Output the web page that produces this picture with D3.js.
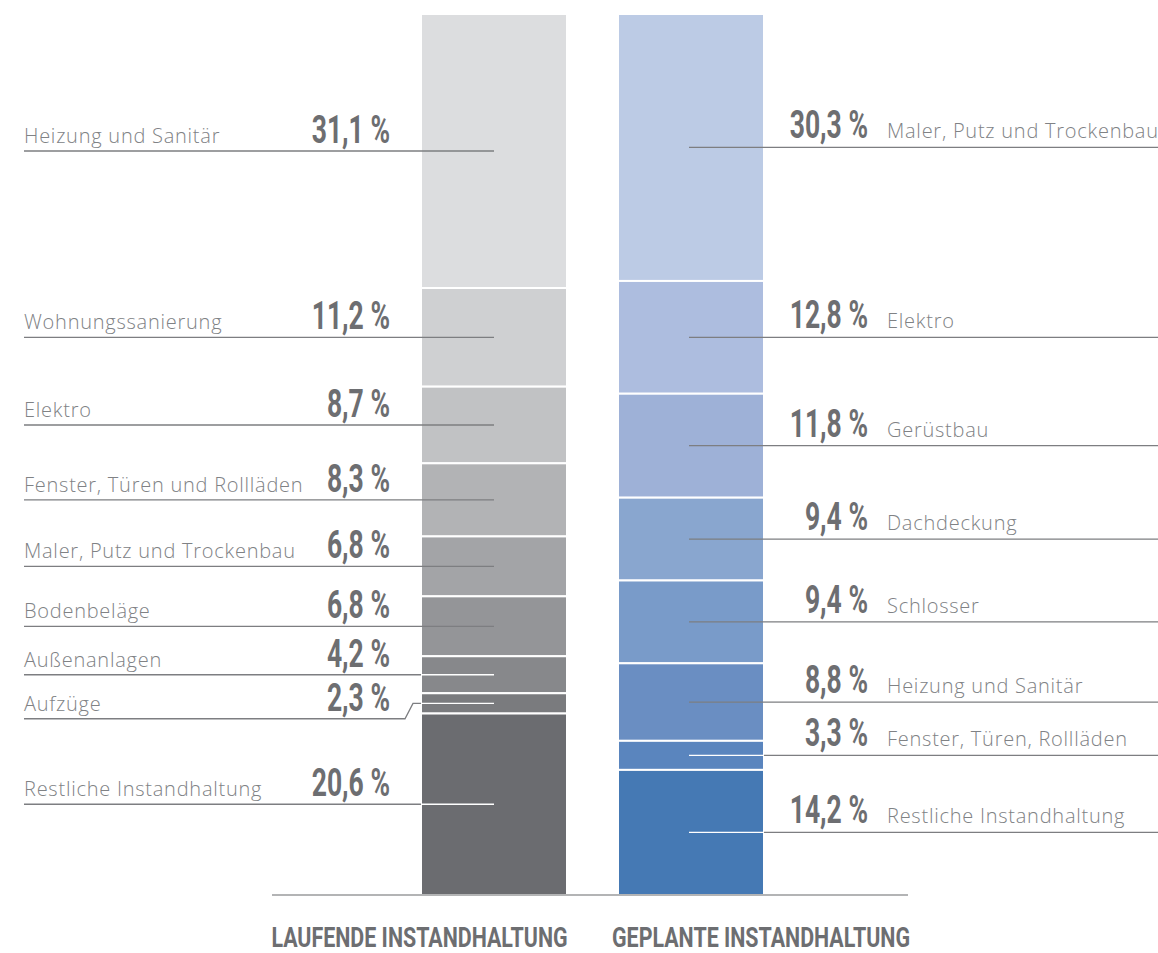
<!DOCTYPE html>
<html lang="de">
<head>
<meta charset="utf-8">
<script src="https://cdn.jsdelivr.net/npm/d3@7"></script>
<style>
  html, body { margin: 0; padding: 0; background: #fff; }
  svg { display: block; }
</style>
</head>
<body>
<svg id="chart" width="1158" height="953"></svg>
<script>
// Anteile der Gewerke an der Instandhaltung (in %)
const seriesNames = ["LAUFENDE INSTANDHALTUNG", "GEPLANTE INSTANDHALTUNG"];

const laufendeCategories = [
  "Heizung und Sanitär", "Wohnungssanierung", "Elektro",
  "Fenster, Türen und Rollläden", "Maler, Putz und Trockenbau",
  "Bodenbeläge", "Außenanlagen", "Aufzüge", "Restliche Instandhaltung"
];
const laufendeValues = [31.1, 11.2, 8.7, 8.3, 6.8, 6.8, 4.2, 2.3, 20.6];
const laufendeColors = ["#dcdddf", "#cfd0d2", "#c1c2c4", "#b2b3b5", "#a3a4a7",
                        "#949598", "#87888b", "#7a7b7e", "#6b6c70"];

const geplanteCategories = [
  "Maler, Putz und Trockenbau", "Elektro", "Gerüstbau", "Dachdeckung",
  "Schlosser", "Heizung und Sanitär", "Fenster, Türen, Rollläden",
  "Restliche Instandhaltung"
];
const geplanteValues = [30.3, 12.8, 11.8, 9.4, 9.4, 8.8, 3.3, 14.2];
const geplanteColors = ["#bccbe5", "#adbddf", "#9eb1d7", "#89a6cf", "#799bc9",
                        "#6a8ec2", "#5a85be", "#4579b4"];

const svg = d3.select("#chart");

const TOP = 14, BOTTOM = 895;
const y = d3.scaleLinear().domain([0, 100]).range([BOTTOM, TOP]);
const x = d3.scaleBand().domain(seriesNames).range([421, 764])
  .paddingInner(51 / 197).paddingOuter(0);

const GREY_TEXT = "#808285";
const DARK_TEXT = "#6d6e71";
const LINE = "#7d7e81";
const LABEL_FONT = "'Open Sans', Roboto, sans-serif";
const fmt = v => d3.format(".1f")(v).replace(".", ",") + " %";

// Stack the values top-down: first category sits at the top of the bar
function stack(values) {
  let acc = 100;
  return values.map(v => {
    const d = { top: acc, bottom: acc - v, value: v };
    acc -= v;
    d.mid = (d.top + d.bottom) / 2;
    return d;
  });
}

// Condensed bold text (horizontal scaling of a bold face)
function condensed(g, txt, px, py, anchor, size, k) {
  g.append("text")
    .attr("transform", `translate(${px},${py}) scale(${k},1)`)
    .attr("text-anchor", anchor)
    .attr("font-family", "Roboto, 'DejaVu Sans', sans-serif")
    .attr("font-weight", 700)
    .attr("font-size", size)
    .attr("fill", DARK_TEXT)
    .text(txt);
}

function categoryLabel(g, txt, px, py) {
  g.append("text")
    .attr("x", px).attr("y", py)
    .attr("font-family", LABEL_FONT).attr("font-weight", 300)
    .attr("font-size", 20).attr("letter-spacing", 0.75)
    .attr("fill", GREY_TEXT)
    .text(txt);
}

function isDark(c) { return d3.hsl(c).l < 0.56; }

function drawBar(name, cats, values, colors, side) {
  const segs = stack(values);
  const bx = x(name), bw = x.bandwidth(), cx = bx + bw / 2;
  const g = svg.append("g");

  g.selectAll("rect").data(segs).join("rect")
    .attr("x", bx)
    .attr("width", bw)
    .attr("y", d => y(d.top))
    .attr("height", d => y(d.bottom) - y(d.top))
    .attr("fill", (d, i) => colors[i])
    .attr("stroke", "#fff")
    .attr("stroke-width", 2);

  // label rows: keep a minimum vertical gap between neighbouring labels
  let prev = -Infinity;
  segs.forEach((d, i) => {
    const mid = y(d.mid);
    const ly = Math.max(mid, prev + 44);
    prev = ly;
    const inner = isDark(colors[i]) ? "#ffffff" : LINE;

    if (side === "left") {
      const pts = ly === mid
        ? [[24, ly], [bx, ly]]
        : [[24, ly], [405, ly], [413, mid], [bx, mid]];
      g.append("path").attr("d", d3.line()(pts))
        .attr("fill", "none").attr("stroke", LINE).attr("stroke-width", 1.3);
      g.append("line").attr("x1", bx).attr("x2", cx).attr("y1", mid).attr("y2", mid)
        .attr("stroke", inner).attr("stroke-width", 1.3);
      categoryLabel(g, cats[i], 24, ly - 8);
      condensed(g, fmt(d.value), 390, ly - 8, "end", 39, 0.68);
    } else {
      g.append("line").attr("x1", cx - 2).attr("x2", bx + bw).attr("y1", mid).attr("y2", mid)
        .attr("stroke", inner).attr("stroke-width", 1.3);
      g.append("line").attr("x1", bx + bw).attr("x2", 1158).attr("y1", ly).attr("y2", ly)
        .attr("stroke", LINE).attr("stroke-width", 1.3);
      categoryLabel(g, cats[i], 887, ly - 9);
      condensed(g, fmt(d.value), 868, ly - 9, "end", 39, 0.68);
    }
  });
}

drawBar(seriesNames[0], laufendeCategories, laufendeValues, laufendeColors, "left");
drawBar(seriesNames[1], geplanteCategories, geplanteValues, geplanteColors, "right");

// baseline
svg.append("line")
  .attr("x1", 272).attr("x2", 908)
  .attr("y1", y(0)).attr("y2", y(0))
  .attr("stroke", "#9a9b9d").attr("stroke-width", 1.6);

// bar titles
const tg = svg.append("g");
condensed(tg, seriesNames[0], (272 + 567) / 2, 947, "middle", 28, 0.765);
condensed(tg, seriesNames[1], (614 + 908) / 2, 947, "middle", 28, 0.765);
</script>
</body>
</html>
